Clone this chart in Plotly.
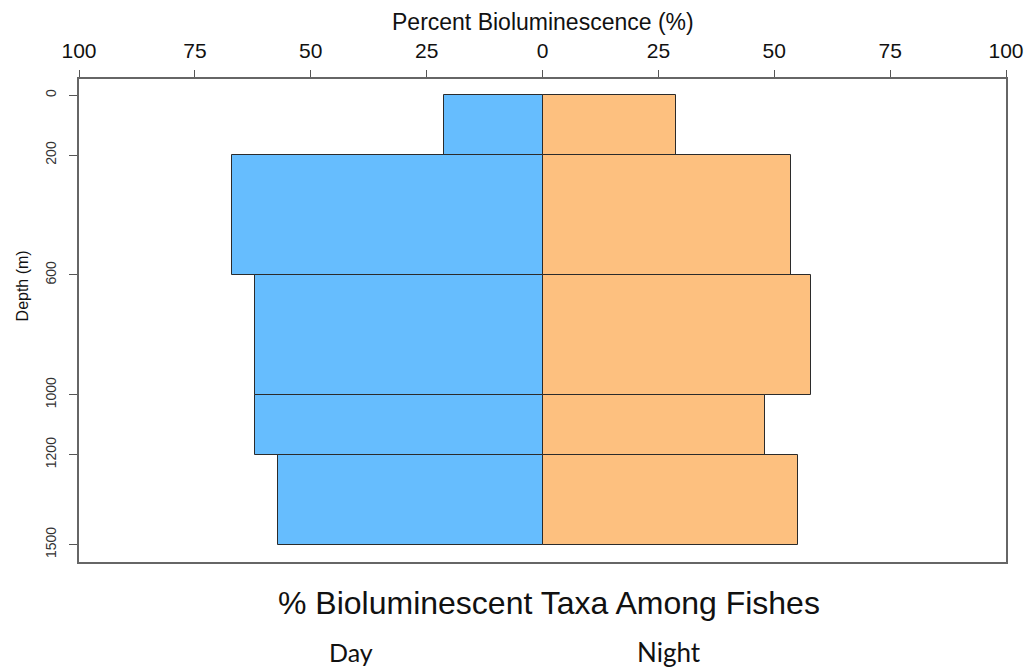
import plotly.graph_objects as go

# Data
depth_edges = [0, 200, 600, 1000, 1200, 1500]
day_pct = [21.3, 66.9, 62.0, 62.0, 57.1]
night_pct = [28.9, 53.7, 58.0, 48.0, 55.1]
x_tick_vals = [-100, -75, -50, -25, 0, 25, 50, 75, 100]
x_tick_text = ["100", "75", "50", "25", "0", "25", "50", "75", "100"]
y_tick_vals = [0, 200, 600, 1000, 1200, 1500]

mids = [(a + b) / 2 for a, b in zip(depth_edges[:-1], depth_edges[1:])]
widths = [b - a for a, b in zip(depth_edges[:-1], depth_edges[1:])]

fig = go.Figure()
fig.add_trace(go.Bar(
    orientation="h", y=mids, x=[-v for v in day_pct], width=widths, base=0,
    marker=dict(color="#66BDFE", line=dict(color="#2b2b2b", width=1)),
    name="Day", showlegend=False,
))
fig.add_trace(go.Bar(
    orientation="h", y=mids, x=night_pct, width=widths, base=0,
    marker=dict(color="#FDC07F", line=dict(color="#2b2b2b", width=1)),
    name="Night", showlegend=False,
))

L, R, T, B = 79, 23, 79, 109
W, H = 1036, 671
pw, ph = W - L - R, H - T - B

def px(xp):
    return (xp - L) / pw

def py(yp):
    return (H - B - yp) / ph

fig.update_layout(
    width=W, height=H,
    margin=dict(l=L, r=R, t=T, b=B),
    paper_bgcolor="white", plot_bgcolor="white",
    barmode="overlay", bargap=0,
    font=dict(family="Liberation Sans, Arial, sans-serif", color="#111"),
    xaxis=dict(
        side="top", range=[-100, 100], tickvals=x_tick_vals, ticktext=x_tick_text,
        ticks="outside", ticklen=7, tickcolor="#555", tickwidth=1.3,
        showline=True, linecolor="#666", linewidth=1.5, mirror=True,
        showgrid=False, zeroline=False, ticklabelstandoff=4,
        tickfont=dict(size=21, color="#111"),
    ),
    yaxis=dict(
        range=[1558, -54], tickvals=y_tick_vals, tickangle=-90,
        ticks="outside", ticklen=8, tickcolor="#555", tickwidth=1.3,
        showline=True, linecolor="#666", linewidth=1.5, mirror=True,
        showgrid=False, zeroline=False, ticklabelstandoff=8,
        tickfont=dict(size=14, color="#333"),
    ),
)

fig.add_annotation(
    text="Percent Bioluminescence (%)", xref="paper", yref="paper",
    x=px(547), y=py(22), xanchor="center", yanchor="middle", showarrow=False,
    font=dict(size=23, color="#111"),
)
fig.add_annotation(
    text="Depth (m)", xref="paper", yref="paper", textangle=-90,
    x=px(22), y=py(286), xanchor="center", yanchor="middle", showarrow=False,
    font=dict(size=16, color="#111"),
)
fig.add_annotation(
    text="% Bioluminescent Taxa Among Fishes", xref="paper", yref="paper",
    x=px(553), y=py(603), xanchor="center", yanchor="middle", showarrow=False,
    font=dict(size=32, color="#111"),
)
fig.add_annotation(
    text="Day", xref="paper", yref="paper",
    x=px(353), y=py(652), xanchor="center", yanchor="middle", showarrow=False,
    font=dict(size=25, family="Lato, sans-serif", color="#111"),
)
fig.add_annotation(
    text="Night", xref="paper", yref="paper",
    x=px(673), y=py(652), xanchor="center", yanchor="middle", showarrow=False,
    font=dict(size=26, family="Lato, sans-serif", color="#111"),
)

fig.write_html("out.html")
